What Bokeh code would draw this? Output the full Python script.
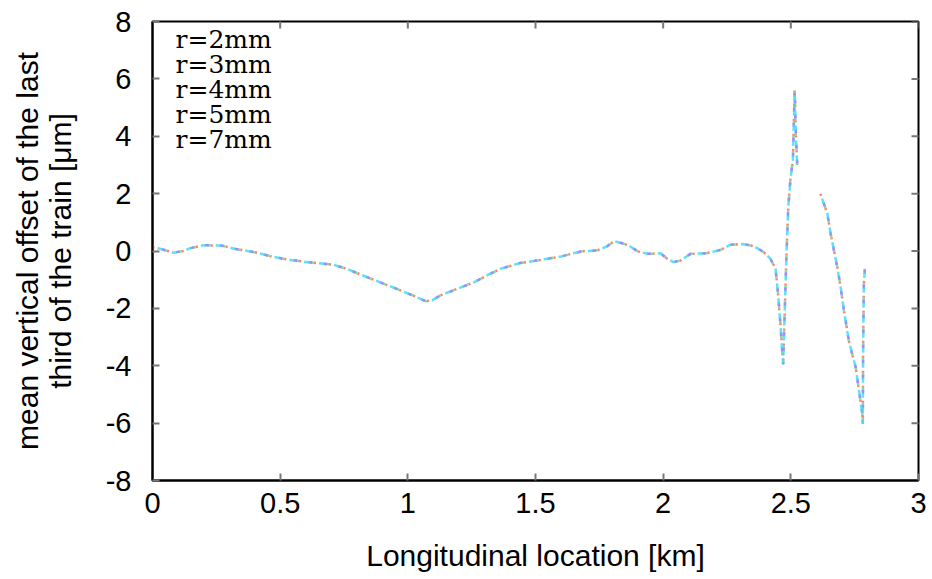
import math
import numpy as np
from bokeh.plotting import figure
from bokeh.models import FixedTicker, Label, Range1d
from bokeh.embed import file_html
from bokeh.resources import INLINE

nan = float("nan")

# Longitudinal location [km]
x_km = [0.0, 0.03, 0.083, 0.12, 0.149, 0.2, 0.27, 0.32, 0.40, 0.46, 0.53, 0.61, 0.71, 0.76,
        0.84, 0.945, 1.02, 1.07, 1.095, 1.13, 1.21, 1.26, 1.31, 1.363, 1.44, 1.507, 1.60,
        1.68, 1.74, 1.78, 1.807, 1.84, 1.866, 1.90, 1.94, 1.99, 2.016, 2.04, 2.068, 2.107,
        2.17, 2.225, 2.264, 2.316, 2.355, 2.394, 2.42, 2.44, 2.45, 2.46, 2.466, 2.47, 2.475,
        2.483, 2.49, 2.499, 2.508, 2.512, 2.515, 2.52, 2.525, 2.57, 2.616, 2.643, 2.656,
        2.669, 2.682, 2.695, 2.708, 2.727, 2.74, 2.754, 2.767, 2.78, 2.782, 2.783, 2.786, 2.79]

# mean vertical offset [um] (common shape of all radii)
y_base = [0.13, 0.08, -0.06, 0.0, 0.1, 0.2, 0.19, 0.08, -0.04, -0.18, -0.30, -0.39, -0.48, -0.62,
          -0.91, -1.28, -1.55, -1.75, -1.72, -1.54, -1.26, -1.09, -0.85, -0.62, -0.42, -0.33, -0.19,
          -0.01, 0.02, 0.16, 0.34, 0.27, 0.19, -0.01, -0.10, -0.08, -0.27, -0.39, -0.33, -0.10,
          -0.08, 0.04, 0.22, 0.24, 0.17, -0.04, -0.27, -0.62, -1.49, -2.65, -3.47, -3.95, -2.42,
          -0.1, 1.53, 2.57, 3.15, 4.55, 5.59, 4.0, 3.0, nan, 1.99, 1.30, 0.60,
          0.02, -0.56, -1.26, -2.07, -3.12, -3.58, -4.05, -4.86, -5.67, -6.02, -3.57, -1.14, -0.62]

y_r2 = list(y_base)
y_r3 = list(y_base)
y_r4 = list(y_base)
y_r5 = list(y_base)
y_r7 = list(y_base)

labels = ["r=2mm", "r=3mm", "r=4mm", "r=5mm", "r=7mm"]
series = [y_r2, y_r3, y_r4, y_r5, y_r7]
colors = ["#ff6a50", "#5ee07a", "#6c8cff", "#b87cff", "#46dcf5"]
dash_styles = [("2 13", 0), ("2 13", 2), ("4 11", 6), ("2 13", 4), ("5 10", 10)]

x_ticks = [0, 0.5, 1, 1.5, 2, 2.5, 3]
x_tick_labels = ["0", "0.5", "1", "1.5", "2", "2.5", "3"]
y_ticks = [-8, -6, -4, -2, 0, 2, 4, 6, 8]
y_tick_labels = ["-8", "-6", "-4", "-2", "0", "2", "4", "6", "8"]
x_min, x_max = 0, 3
y_min, y_max = -8, 8

p = figure(width=932, height=579, output_backend="svg", toolbar_location=None,
           x_range=Range1d(x_min, x_max), y_range=Range1d(y_min, y_max),
           min_border_left=152, min_border_right=14, min_border_top=21, min_border_bottom=99)
p.grid.visible = False
p.background_fill_color = "white"
p.border_fill_color = "white"
p.outline_line_color = "black"
p.outline_line_width = 2

for ys, c, (d, off) in zip(series, colors, dash_styles):
    p.line(np.array(x_km, dtype=float), np.array(ys, dtype=float),
           line_color=c, line_width=2.5, line_dash=d, line_dash_offset=off,
           line_alpha=0.85)

# mirrored inward ticks on top and right edges
p.scatter(x=x_ticks, y=[y_max] * len(x_ticks), marker="dash", size=14, angle=math.pi / 2,
          line_color="#777777", line_width=2)
p.scatter(x=[x_max] * len(y_ticks), y=y_ticks, marker="dash", size=14,
          line_color="#777777", line_width=2)

font = "Liberation Sans"
for ax in (p.xaxis[0], p.yaxis[0]):
    ax.major_tick_in = 7
    ax.major_tick_out = 0
    ax.minor_tick_in = 0
    ax.minor_tick_out = 0
    ax.major_tick_line_color = "#777777"
    ax.major_tick_line_width = 2
    ax.axis_line_color = "black"
    ax.axis_line_width = 2
    ax.major_label_text_font = font
    ax.major_label_text_font_size = "29px"
    ax.major_label_text_color = "black"
    ax.axis_label_text_font = font
    ax.axis_label_text_font_size = "30px"
    ax.axis_label_text_font_style = "normal"
    ax.axis_label_text_color = "black"

p.xaxis[0].ticker = FixedTicker(ticks=x_ticks)
p.xaxis[0].major_label_overrides = dict(zip(x_ticks, x_tick_labels))
p.yaxis[0].ticker = FixedTicker(ticks=y_ticks)
p.yaxis[0].major_label_overrides = dict(zip(y_ticks, y_tick_labels))
p.xaxis[0].axis_label = "Longitudinal location [km]"
p.xaxis[0].major_label_standoff = 12
p.xaxis[0].axis_label_standoff = 23
p.yaxis[0].axis_label = "mean vertical offset of the last\nthird of the train [μm]"
p.yaxis[0].axis_label_text_line_height = 1.0
p.yaxis[0].major_label_standoff = 21
p.yaxis[0].axis_label_standoff = 26

# legend (text only, as in the original)
for i, lab in enumerate(labels):
    p.add_layout(Label(x=23, y=441 - 25 * i, x_units="screen", y_units="screen",
                       text=lab, text_align="left", text_baseline="middle",
                       text_font="DejaVu Serif", text_font_size="25px", text_color="black"))

open("out.html", "w").write(file_html(p, INLINE))
